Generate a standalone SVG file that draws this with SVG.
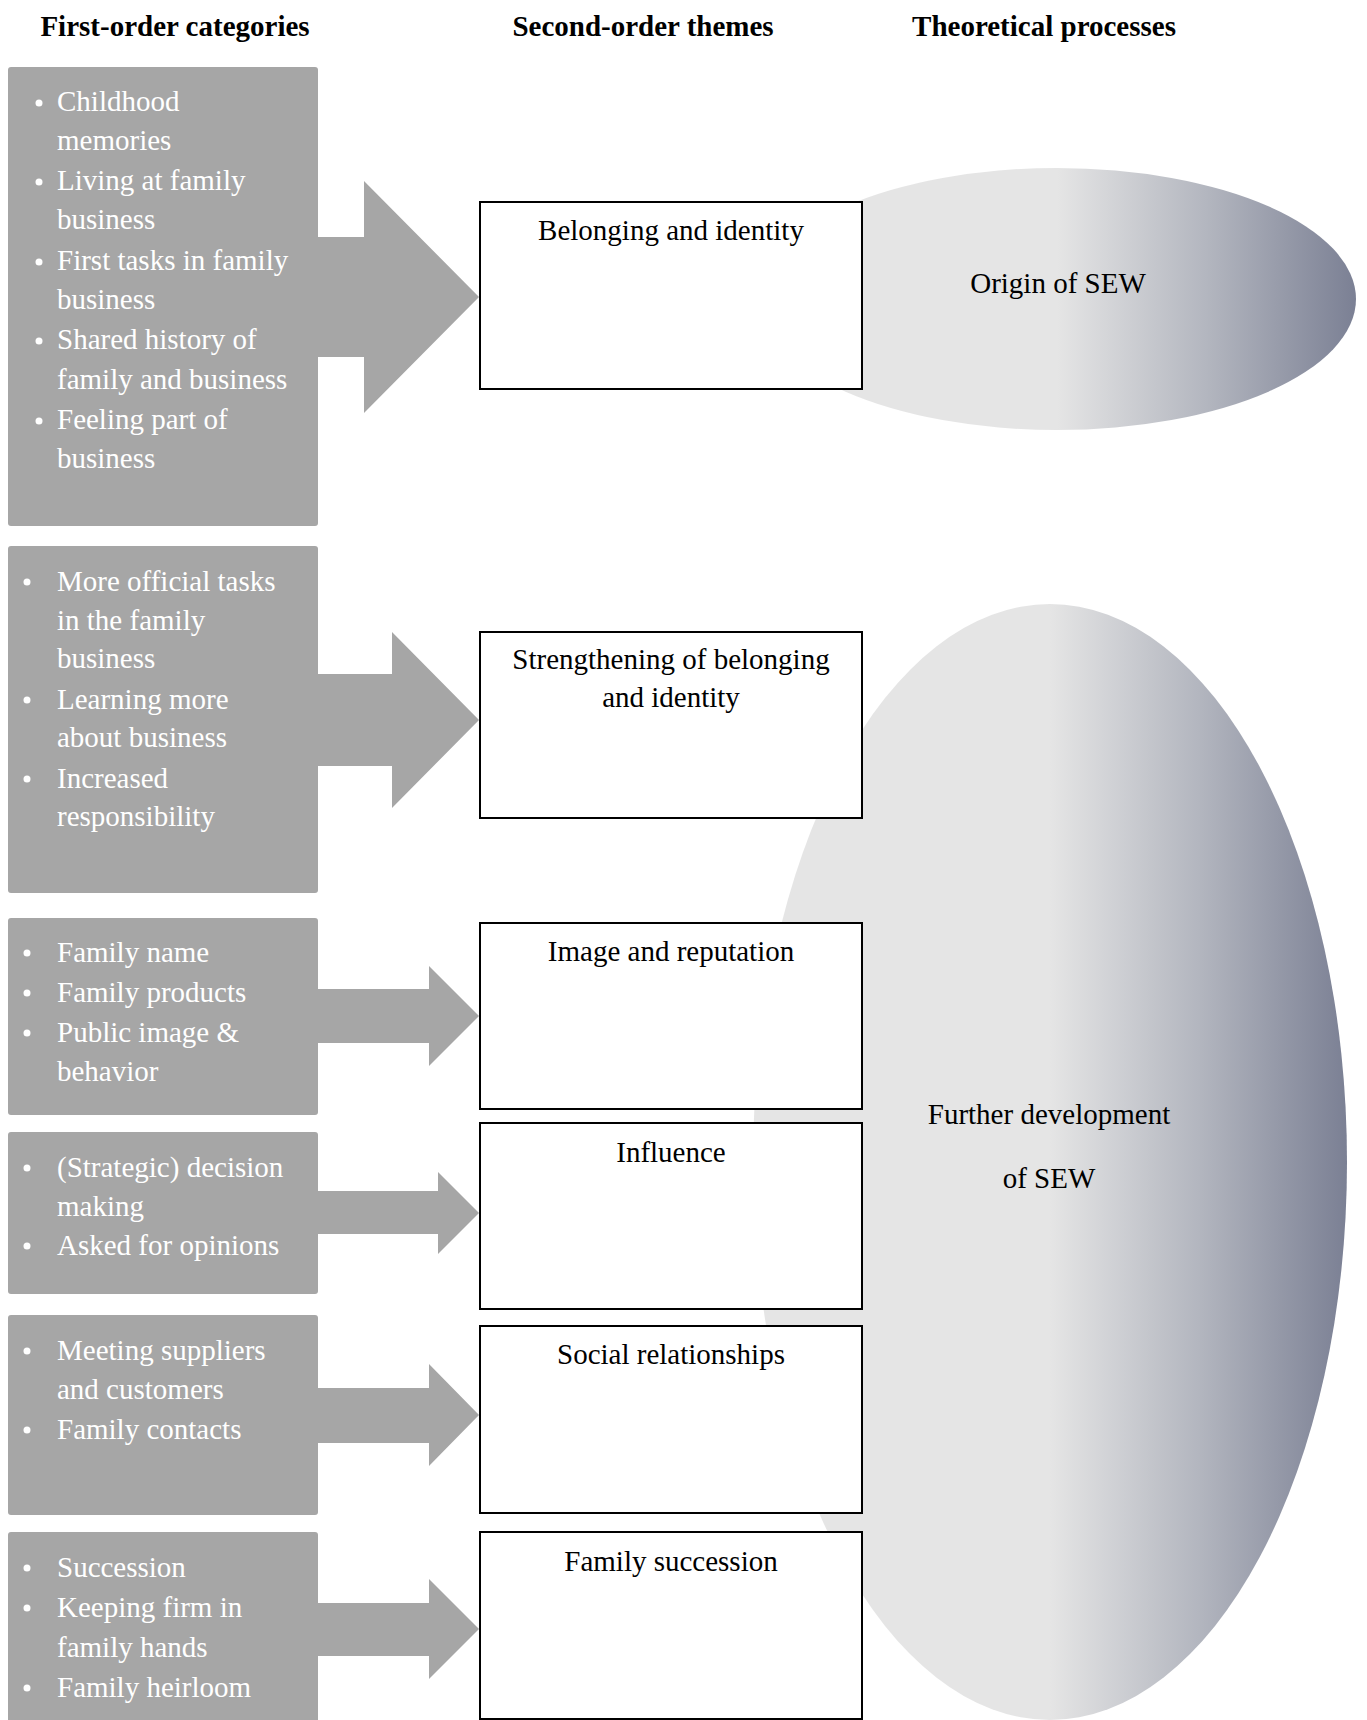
<svg xmlns="http://www.w3.org/2000/svg" width="1367" height="1720" viewBox="0 0 1367 1720">
<defs>
<linearGradient id="sew" x1="0" y1="0" x2="1" y2="0">
<stop offset="0" stop-color="#e5e5e5"/>
<stop offset="0.5" stop-color="#e5e5e5"/>
<stop offset="0.75" stop-color="#b3b6bf"/>
<stop offset="1" stop-color="#7b8094"/>
</linearGradient>
<style>
.hdr{font-family:"Liberation Serif","Times New Roman",serif;font-size:29px;font-weight:bold;fill:#000;text-anchor:middle}
.cat{fill:#a6a6a6}
.ct{font-family:"Liberation Serif","Times New Roman",serif;font-size:29px;fill:#fff}
.dot{fill:#fff}
.theme{fill:#fff;stroke:#000;stroke-width:2}
.tt{font-family:"Liberation Serif","Times New Roman",serif;font-size:29px;fill:#000;text-anchor:middle}
.arr{fill:#a6a6a6}
.proc{fill:url(#sew)}
</style>
</defs>
<rect width="1367" height="1720" fill="#fff"/>

<g id="headers">
<text class="hdr" x="175" y="36">First-order categories</text>
<text class="hdr" x="643" y="36">Second-order themes</text>
<text class="hdr" x="1044" y="36">Theoretical processes</text>
</g>

<g id="process-origin">
<ellipse class="proc" cx="1057" cy="299" rx="299" ry="131"/>
<text class="tt" x="1058" y="293">Origin of SEW</text>
</g>

<g id="process-further">
<ellipse class="proc" cx="1050" cy="1162" rx="297" ry="558"/>
<text class="tt" x="1049" y="1124">Further development</text>
<text class="tt" x="1049" y="1188">of SEW</text>
</g>

<g id="connectors">
<polygon class="arr" points="316,237 364,237 364,181 479,297 364,413 364,357 316,357"/>
<polygon class="arr" points="316,674 392,674 392,632 479,720 392,808 392,766 316,766"/>
<polygon class="arr" points="316,989 429,989 429,966 479,1016 429,1066 429,1043 316,1043"/>
<polygon class="arr" points="316,1191 438,1191 438,1172 479,1213 438,1254 438,1234 316,1234"/>
<polygon class="arr" points="316,1388 429,1388 429,1364 479,1415 429,1466 429,1443 316,1443"/>
<polygon class="arr" points="316,1603 429,1603 429,1579 479,1629 429,1679 429,1656 316,1656"/>
</g>

<g id="cat1">
<rect class="cat" x="8" y="67" width="310" height="459" rx="3"/>
<circle class="dot" cx="39" cy="103" r="3.5"/>
<text class="ct" x="57" y="111">Childhood</text>
<text class="ct" x="57" y="150">memories</text>
<circle class="dot" cx="39" cy="182" r="3.5"/>
<text class="ct" x="57" y="190">Living at family</text>
<text class="ct" x="57" y="229">business</text>
<circle class="dot" cx="39" cy="262" r="3.5"/>
<text class="ct" x="57" y="270">First tasks in family</text>
<text class="ct" x="57" y="309">business</text>
<circle class="dot" cx="39" cy="341" r="3.5"/>
<text class="ct" x="57" y="349">Shared history of</text>
<text class="ct" x="57" y="389">family and business</text>
<circle class="dot" cx="39" cy="421" r="3.5"/>
<text class="ct" x="57" y="429">Feeling part of</text>
<text class="ct" x="57" y="468">business</text>
</g>

<g id="cat2">
<rect class="cat" x="8" y="546" width="310" height="347" rx="3"/>
<circle class="dot" cx="27" cy="582" r="3.5"/>
<text class="ct" x="57" y="591">More official tasks</text>
<text class="ct" x="57" y="630">in the family</text>
<text class="ct" x="57" y="668">business</text>
<circle class="dot" cx="27" cy="700" r="3.5"/>
<text class="ct" x="57" y="709">Learning more</text>
<text class="ct" x="57" y="747">about business</text>
<circle class="dot" cx="27" cy="779" r="3.5"/>
<text class="ct" x="57" y="788">Increased</text>
<text class="ct" x="57" y="826">responsibility</text>
</g>

<g id="cat3">
<rect class="cat" x="8" y="918" width="310" height="197" rx="3"/>
<circle class="dot" cx="27" cy="953" r="3.5"/>
<text class="ct" x="57" y="962">Family name</text>
<circle class="dot" cx="27" cy="993" r="3.5"/>
<text class="ct" x="57" y="1002">Family products</text>
<circle class="dot" cx="27" cy="1033" r="3.5"/>
<text class="ct" x="57" y="1042">Public image &amp;</text>
<text class="ct" x="57" y="1081">behavior</text>
</g>

<g id="cat4">
<rect class="cat" x="8" y="1132" width="310" height="162" rx="3"/>
<circle class="dot" cx="27" cy="1168" r="3.5"/>
<text class="ct" x="57" y="1177">(Strategic) decision</text>
<text class="ct" x="57" y="1216">making</text>
<circle class="dot" cx="27" cy="1246" r="3.5"/>
<text class="ct" x="57" y="1255">Asked for opinions</text>
</g>

<g id="cat5">
<rect class="cat" x="8" y="1315" width="310" height="200" rx="3"/>
<circle class="dot" cx="27" cy="1351" r="3.5"/>
<text class="ct" x="57" y="1360">Meeting suppliers</text>
<text class="ct" x="57" y="1399">and customers</text>
<circle class="dot" cx="27" cy="1430" r="3.5"/>
<text class="ct" x="57" y="1439">Family contacts</text>
</g>

<g id="cat6">
<rect class="cat" x="8" y="1532" width="310" height="192" rx="3"/>
<circle class="dot" cx="27" cy="1568" r="3.5"/>
<text class="ct" x="57" y="1577">Succession</text>
<circle class="dot" cx="27" cy="1608" r="3.5"/>
<text class="ct" x="57" y="1617">Keeping firm in</text>
<text class="ct" x="57" y="1657">family hands</text>
<circle class="dot" cx="27" cy="1688" r="3.5"/>
<text class="ct" x="57" y="1697">Family heirloom</text>
</g>

<g id="theme1">
<rect class="theme" x="480" y="202" width="382" height="187"/>
<text class="tt" x="671" y="240">Belonging and identity</text>
</g>
<g id="theme2">
<rect class="theme" x="480" y="632" width="382" height="186"/>
<text class="tt" x="671" y="669">Strengthening of belonging</text>
<text class="tt" x="671" y="707">and identity</text>
</g>
<g id="theme3">
<rect class="theme" x="480" y="923" width="382" height="186"/>
<text class="tt" x="671" y="961">Image and reputation</text>
</g>
<g id="theme4">
<rect class="theme" x="480" y="1123" width="382" height="186"/>
<text class="tt" x="671" y="1162">Influence</text>
</g>
<g id="theme5">
<rect class="theme" x="480" y="1326" width="382" height="187"/>
<text class="tt" x="671" y="1364">Social relationships</text>
</g>
<g id="theme6">
<rect class="theme" x="480" y="1532" width="382" height="187"/>
<text class="tt" x="671" y="1571">Family succession</text>
</g>
</svg>
